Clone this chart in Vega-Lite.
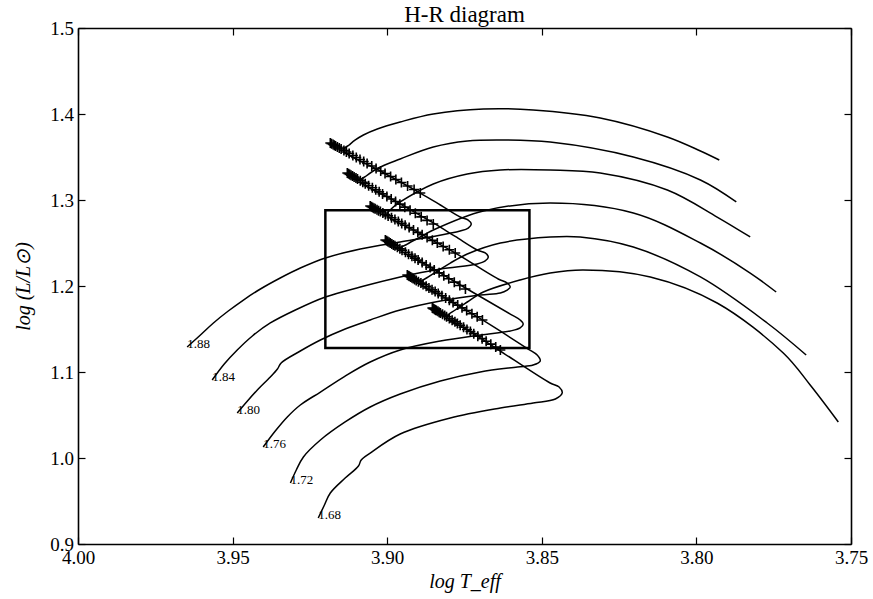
{
"$schema": "https://vega.github.io/schema/vega-lite/v6.json",
"width": 773, "height": 516,
"autosize": {"type": "none"},
"padding": {"left": 78, "top": 28, "right": 22, "bottom": 55},
"background": "white",
"title": {"text": "H-R diagram", "font": "Liberation Serif", "fontSize": 23, "fontWeight": "normal", "color": "black", "anchor": "middle", "offset": -8},
"datasets": {
"tracks": [
{"m":"1.88","i":1,"T":3.9647,"L":1.1291},{"m":"1.88","i":2,"T":3.9604,"L":1.1430},{"m":"1.88","i":3,"T":3.9562,"L":1.1570},{"m":"1.88","i":4,"T":3.9514,"L":1.1709},{"m":"1.88","i":5,"T":3.9465,"L":1.1837},{"m":"1.88","i":6,"T":3.9410,"L":1.1965},{"m":"1.88","i":7,"T":3.9346,"L":1.2093},{"m":"1.88","i":8,"T":3.9281,"L":1.2209},{"m":"1.88","i":9,"T":3.9200,"L":1.2326},{"m":"1.88","i":10,"T":3.9087,"L":1.2430},{"m":"1.88","i":11,"T":3.8958,"L":1.2512},{"m":"1.88","i":12,"T":3.8861,"L":1.2570},{"m":"1.88","i":13,"T":3.8764,"L":1.2640},{"m":"1.88","i":14,"T":3.8738,"L":1.2674},{"m":"1.88","i":15,"T":3.8728,"L":1.2721},{"m":"1.88","i":16,"T":3.8738,"L":1.2767},{"m":"1.88","i":17,"T":3.8764,"L":1.2802},{"m":"1.88","i":18,"T":3.8828,"L":1.2942},{"m":"1.88","i":19,"T":3.8893,"L":1.3081},{"m":"1.88","i":20,"T":3.9022,"L":1.3337},{"m":"1.88","i":21,"T":3.9142,"L":1.3581},{"m":"1.88","i":22,"T":3.9123,"L":1.3640},{"m":"1.88","i":23,"T":3.9103,"L":1.3698},{"m":"1.88","i":24,"T":3.9077,"L":1.3756},{"m":"1.88","i":25,"T":3.9032,"L":1.3826},{"m":"1.88","i":26,"T":3.8958,"L":1.3907},{"m":"1.88","i":27,"T":3.8851,"L":1.4000},{"m":"1.88","i":28,"T":3.8689,"L":1.4058},{"m":"1.88","i":29,"T":3.8528,"L":1.4047},{"m":"1.88","i":30,"T":3.8311,"L":1.3953},{"m":"1.88","i":31,"T":3.8094,"L":1.3733},{"m":"1.88","i":32,"T":3.7987,"L":1.3570},{"m":"1.88","i":33,"T":3.7926,"L":1.3465},
{"m":"1.84","i":1,"T":3.9566,"L":1.0907},{"m":"1.84","i":2,"T":3.9527,"L":1.1093},{"m":"1.84","i":3,"T":3.9485,"L":1.1256},{"m":"1.84","i":4,"T":3.9436,"L":1.1419},{"m":"1.84","i":5,"T":3.9378,"L":1.1570},{"m":"1.84","i":6,"T":3.9297,"L":1.1721},{"m":"1.84","i":7,"T":3.9200,"L":1.1872},{"m":"1.84","i":8,"T":3.9087,"L":1.1988},{"m":"1.84","i":9,"T":3.8958,"L":1.2105},{"m":"1.84","i":10,"T":3.8828,"L":1.2198},{"m":"1.84","i":11,"T":3.8709,"L":1.2256},{"m":"1.84","i":12,"T":3.8683,"L":1.2291},{"m":"1.84","i":13,"T":3.8673,"L":1.2337},{"m":"1.84","i":14,"T":3.8683,"L":1.2384},{"m":"1.84","i":15,"T":3.8709,"L":1.2419},{"m":"1.84","i":16,"T":3.8780,"L":1.2576},{"m":"1.84","i":17,"T":3.8851,"L":1.2733},{"m":"1.84","i":18,"T":3.8974,"L":1.2988},{"m":"1.84","i":19,"T":3.9087,"L":1.3221},{"m":"1.84","i":20,"T":3.9068,"L":1.3279},{"m":"1.84","i":21,"T":3.9029,"L":1.3372},{"m":"1.84","i":22,"T":3.8958,"L":1.3477},{"m":"1.84","i":23,"T":3.8851,"L":1.3616},{"m":"1.84","i":24,"T":3.8741,"L":1.3686},{"m":"1.84","i":25,"T":3.8634,"L":1.3698},{"m":"1.84","i":26,"T":3.8473,"L":1.3674},{"m":"1.84","i":27,"T":3.8204,"L":1.3500},{"m":"1.84","i":28,"T":3.7987,"L":1.3233},{"m":"1.84","i":29,"T":3.7871,"L":1.2977},
{"m":"1.80","i":1,"T":3.9485,"L":1.0523},{"m":"1.80","i":2,"T":3.9452,"L":1.0663},{"m":"1.80","i":3,"T":3.9420,"L":1.0791},{"m":"1.80","i":4,"T":3.9378,"L":1.0942},{"m":"1.80","i":5,"T":3.9355,"L":1.1035},{"m":"1.80","i":6,"T":3.9343,"L":1.1105},{"m":"1.80","i":7,"T":3.9281,"L":1.1244},{"m":"1.80","i":8,"T":3.9216,"L":1.1372},{"m":"1.80","i":9,"T":3.9136,"L":1.1500},{"m":"1.80","i":10,"T":3.9055,"L":1.1605},{"m":"1.80","i":11,"T":3.8958,"L":1.1721},{"m":"1.80","i":12,"T":3.8828,"L":1.1826},{"m":"1.80","i":13,"T":3.8699,"L":1.1895},{"m":"1.80","i":14,"T":3.8634,"L":1.1919},{"m":"1.80","i":15,"T":3.8612,"L":1.1953},{"m":"1.80","i":16,"T":3.8602,"L":1.1988},{"m":"1.80","i":17,"T":3.8612,"L":1.2035},{"m":"1.80","i":18,"T":3.8641,"L":1.2081},{"m":"1.80","i":19,"T":3.8780,"L":1.2384},{"m":"1.80","i":20,"T":3.8909,"L":1.2640},{"m":"1.80","i":21,"T":3.9000,"L":1.2826},{"m":"1.80","i":22,"T":3.8980,"L":1.2919},{"m":"1.80","i":23,"T":3.8958,"L":1.2977},{"m":"1.80","i":24,"T":3.8851,"L":1.3186},{"m":"1.80","i":25,"T":3.8741,"L":1.3302},{"m":"1.80","i":26,"T":3.8634,"L":1.3349},{"m":"1.80","i":27,"T":3.8473,"L":1.3349},{"m":"1.80","i":28,"T":3.8311,"L":1.3314},{"m":"1.80","i":29,"T":3.8094,"L":1.3116},{"m":"1.80","i":30,"T":3.7933,"L":1.2802},{"m":"1.80","i":31,"T":3.7826,"L":1.2570},
{"m":"1.76","i":1,"T":3.9401,"L":1.0128},{"m":"1.76","i":2,"T":3.9362,"L":1.0314},{"m":"1.76","i":3,"T":3.9323,"L":1.0477},{"m":"1.76","i":4,"T":3.9281,"L":1.0616},{"m":"1.76","i":5,"T":3.9216,"L":1.0767},{"m":"1.76","i":6,"T":3.9136,"L":1.0953},{"m":"1.76","i":7,"T":3.9055,"L":1.1116},{"m":"1.76","i":8,"T":3.8958,"L":1.1256},{"m":"1.76","i":9,"T":3.8828,"L":1.1360},{"m":"1.76","i":10,"T":3.8699,"L":1.1430},{"m":"1.76","i":11,"T":3.8602,"L":1.1477},{"m":"1.76","i":12,"T":3.8570,"L":1.1512},{"m":"1.76","i":13,"T":3.8560,"L":1.1558},{"m":"1.76","i":14,"T":3.8570,"L":1.1605},{"m":"1.76","i":15,"T":3.8602,"L":1.1674},{"m":"1.76","i":16,"T":3.8747,"L":1.1977},{"m":"1.76","i":17,"T":3.8861,"L":1.2221},{"m":"1.76","i":18,"T":3.8958,"L":1.2430},{"m":"1.76","i":19,"T":3.8935,"L":1.2488},{"m":"1.76","i":20,"T":3.8893,"L":1.2570},{"m":"1.76","i":21,"T":3.8851,"L":1.2651},{"m":"1.76","i":22,"T":3.8689,"L":1.2872},{"m":"1.76","i":23,"T":3.8473,"L":1.2965},{"m":"1.76","i":24,"T":3.8204,"L":1.2849},{"m":"1.76","i":25,"T":3.7987,"L":1.2500},{"m":"1.76","i":26,"T":3.7826,"L":1.2151},{"m":"1.76","i":27,"T":3.7742,"L":1.1930},
{"m":"1.72","i":1,"T":3.9313,"L":0.9709},{"m":"1.72","i":2,"T":3.9294,"L":0.9860},{"m":"1.72","i":3,"T":3.9271,"L":1.0012},{"m":"1.72","i":4,"T":3.9216,"L":1.0209},{"m":"1.72","i":5,"T":3.9136,"L":1.0419},{"m":"1.72","i":6,"T":3.9055,"L":1.0593},{"m":"1.72","i":7,"T":3.8958,"L":1.0744},{"m":"1.72","i":8,"T":3.8828,"L":1.0895},{"m":"1.72","i":9,"T":3.8699,"L":1.1000},{"m":"1.72","i":10,"T":3.8579,"L":1.1058},{"m":"1.72","i":11,"T":3.8528,"L":1.1081},{"m":"1.72","i":12,"T":3.8505,"L":1.1128},{"m":"1.72","i":13,"T":3.8515,"L":1.1198},{"m":"1.72","i":14,"T":3.8544,"L":1.1267},{"m":"1.72","i":15,"T":3.8692,"L":1.1605},{"m":"1.72","i":16,"T":3.8806,"L":1.1849},{"m":"1.72","i":17,"T":3.8893,"L":1.2035},{"m":"1.72","i":18,"T":3.8867,"L":1.2105},{"m":"1.72","i":19,"T":3.8796,"L":1.2267},{"m":"1.72","i":20,"T":3.8741,"L":1.2372},{"m":"1.72","i":21,"T":3.8634,"L":1.2500},{"m":"1.72","i":22,"T":3.8473,"L":1.2570},{"m":"1.72","i":23,"T":3.8376,"L":1.2570},{"m":"1.72","i":24,"T":3.8204,"L":1.2453},{"m":"1.72","i":25,"T":3.7987,"L":1.2105},{"m":"1.72","i":26,"T":3.7771,"L":1.1570},{"m":"1.72","i":27,"T":3.7645,"L":1.1198},
{"m":"1.68","i":1,"T":3.9223,"L":0.9302},{"m":"1.68","i":2,"T":3.9203,"L":0.9453},{"m":"1.68","i":3,"T":3.9184,"L":0.9593},{"m":"1.68","i":4,"T":3.9136,"L":0.9767},{"m":"1.68","i":5,"T":3.9093,"L":0.9907},{"m":"1.68","i":6,"T":3.9084,"L":0.9977},{"m":"1.68","i":7,"T":3.9055,"L":1.0058},{"m":"1.68","i":8,"T":3.8958,"L":1.0279},{"m":"1.68","i":9,"T":3.8796,"L":1.0465},{"m":"1.68","i":10,"T":3.8634,"L":1.0581},{"m":"1.68","i":11,"T":3.8528,"L":1.0640},{"m":"1.68","i":12,"T":3.8456,"L":1.0686},{"m":"1.68","i":13,"T":3.8434,"L":1.0756},{"m":"1.68","i":14,"T":3.8444,"L":1.0826},{"m":"1.68","i":15,"T":3.8473,"L":1.0872},{"m":"1.68","i":16,"T":3.8634,"L":1.1244},{"m":"1.68","i":17,"T":3.8731,"L":1.1472},{"m":"1.68","i":18,"T":3.8806,"L":1.1640},{"m":"1.68","i":19,"T":3.8780,"L":1.1721},{"m":"1.68","i":20,"T":3.8741,"L":1.1814},{"m":"1.68","i":21,"T":3.8689,"L":1.1930},{"m":"1.68","i":22,"T":3.8570,"L":1.2070},{"m":"1.68","i":23,"T":3.8473,"L":1.2151},{"m":"1.68","i":24,"T":3.8366,"L":1.2186},{"m":"1.68","i":25,"T":3.8149,"L":1.2105},{"m":"1.68","i":26,"T":3.7933,"L":1.1802},{"m":"1.68","i":27,"T":3.7719,"L":1.1221},{"m":"1.68","i":28,"T":3.7632,"L":1.0849},{"m":"1.68","i":29,"T":3.7541,"L":1.0419}
],
"crosses": [
{"g":1,"T":3.9184,"L":1.3663},{"g":1,"T":3.9180,"L":1.3654},{"g":1,"T":3.9175,"L":1.3646},{"g":1,"T":3.9171,"L":1.3637},{"g":1,"T":3.9167,"L":1.3628},{"g":1,"T":3.9161,"L":1.3616},{"g":1,"T":3.9155,"L":1.3605},{"g":1,"T":3.9149,"L":1.3593},{"g":1,"T":3.9140,"L":1.3576},{"g":1,"T":3.9132,"L":1.3558},{"g":1,"T":3.9123,"L":1.3541},{"g":1,"T":3.9111,"L":1.3518},{"g":1,"T":3.9100,"L":1.3494},{"g":1,"T":3.9088,"L":1.3471},{"g":1,"T":3.9076,"L":1.3448},{"g":1,"T":3.9065,"L":1.3424},{"g":1,"T":3.9050,"L":1.3395},{"g":1,"T":3.9036,"L":1.3366},{"g":1,"T":3.9021,"L":1.3337},{"g":1,"T":3.9007,"L":1.3308},{"g":1,"T":3.8989,"L":1.3273},{"g":1,"T":3.8972,"L":1.3238},{"g":1,"T":3.8954,"L":1.3203},{"g":1,"T":3.8934,"L":1.3163},{"g":1,"T":3.8913,"L":1.3122},{"g":1,"T":3.8893,"L":1.3081},
{"g":2,"T":3.9129,"L":1.3314},{"g":2,"T":3.9125,"L":1.3305},{"g":2,"T":3.9121,"L":1.3296},{"g":2,"T":3.9117,"L":1.3287},{"g":2,"T":3.9112,"L":1.3278},{"g":2,"T":3.9107,"L":1.3267},{"g":2,"T":3.9101,"L":1.3255},{"g":2,"T":3.9096,"L":1.3243},{"g":2,"T":3.9087,"L":1.3225},{"g":2,"T":3.9079,"L":1.3207},{"g":2,"T":3.9071,"L":1.3190},{"g":2,"T":3.9060,"L":1.3166},{"g":2,"T":3.9048,"L":1.3142},{"g":2,"T":3.9037,"L":1.3118},{"g":2,"T":3.9026,"L":1.3095},{"g":2,"T":3.9015,"L":1.3071},{"g":2,"T":3.9001,"L":1.3041},{"g":2,"T":3.8987,"L":1.3012},{"g":2,"T":3.8973,"L":1.2982},{"g":2,"T":3.8959,"L":1.2952},{"g":2,"T":3.8943,"L":1.2917},{"g":2,"T":3.8926,"L":1.2881},{"g":2,"T":3.8909,"L":1.2846},{"g":2,"T":3.8890,"L":1.2804},{"g":2,"T":3.8871,"L":1.2763},{"g":2,"T":3.8851,"L":1.2721},
{"g":3,"T":3.9055,"L":1.2930},{"g":3,"T":3.9051,"L":1.2922},{"g":3,"T":3.9047,"L":1.2914},{"g":3,"T":3.9043,"L":1.2905},{"g":3,"T":3.9039,"L":1.2897},{"g":3,"T":3.9033,"L":1.2886},{"g":3,"T":3.9028,"L":1.2875},{"g":3,"T":3.9022,"L":1.2865},{"g":3,"T":3.9014,"L":1.2848},{"g":3,"T":3.9006,"L":1.2832},{"g":3,"T":3.8997,"L":1.2815},{"g":3,"T":3.8986,"L":1.2794},{"g":3,"T":3.8975,"L":1.2772},{"g":3,"T":3.8964,"L":1.2750},{"g":3,"T":3.8953,"L":1.2728},{"g":3,"T":3.8942,"L":1.2706},{"g":3,"T":3.8929,"L":1.2679},{"g":3,"T":3.8915,"L":1.2652},{"g":3,"T":3.8901,"L":1.2624},{"g":3,"T":3.8887,"L":1.2597},{"g":3,"T":3.8871,"L":1.2564},{"g":3,"T":3.8854,"L":1.2531},{"g":3,"T":3.8838,"L":1.2499},{"g":3,"T":3.8819,"L":1.2460},{"g":3,"T":3.8799,"L":1.2422},{"g":3,"T":3.8780,"L":1.2384},
{"g":4,"T":3.9006,"L":1.2535},{"g":4,"T":3.9002,"L":1.2526},{"g":4,"T":3.8998,"L":1.2518},{"g":4,"T":3.8994,"L":1.2509},{"g":4,"T":3.8990,"L":1.2501},{"g":4,"T":3.8985,"L":1.2489},{"g":4,"T":3.8980,"L":1.2478},{"g":4,"T":3.8975,"L":1.2467},{"g":4,"T":3.8967,"L":1.2450},{"g":4,"T":3.8959,"L":1.2432},{"g":4,"T":3.8952,"L":1.2415},{"g":4,"T":3.8941,"L":1.2393},{"g":4,"T":3.8931,"L":1.2370},{"g":4,"T":3.8920,"L":1.2347},{"g":4,"T":3.8910,"L":1.2324},{"g":4,"T":3.8900,"L":1.2301},{"g":4,"T":3.8887,"L":1.2273},{"g":4,"T":3.8874,"L":1.2244},{"g":4,"T":3.8861,"L":1.2216},{"g":4,"T":3.8848,"L":1.2187},{"g":4,"T":3.8832,"L":1.2153},{"g":4,"T":3.8817,"L":1.2119},{"g":4,"T":3.8801,"L":1.2085},{"g":4,"T":3.8783,"L":1.2045},{"g":4,"T":3.8765,"L":1.2005},{"g":4,"T":3.8747,"L":1.1965},
{"g":5,"T":3.8935,"L":1.2128},{"g":5,"T":3.8931,"L":1.2120},{"g":5,"T":3.8928,"L":1.2112},{"g":5,"T":3.8924,"L":1.2105},{"g":5,"T":3.8920,"L":1.2097},{"g":5,"T":3.8916,"L":1.2086},{"g":5,"T":3.8911,"L":1.2076},{"g":5,"T":3.8906,"L":1.2065},{"g":5,"T":3.8899,"L":1.2050},{"g":5,"T":3.8891,"L":1.2034},{"g":5,"T":3.8884,"L":1.2018},{"g":5,"T":3.8874,"L":1.1997},{"g":5,"T":3.8865,"L":1.1976},{"g":5,"T":3.8855,"L":1.1955},{"g":5,"T":3.8845,"L":1.1935},{"g":5,"T":3.8835,"L":1.1914},{"g":5,"T":3.8823,"L":1.1887},{"g":5,"T":3.8811,"L":1.1861},{"g":5,"T":3.8799,"L":1.1835},{"g":5,"T":3.8787,"L":1.1809},{"g":5,"T":3.8772,"L":1.1778},{"g":5,"T":3.8758,"L":1.1746},{"g":5,"T":3.8743,"L":1.1715},{"g":5,"T":3.8726,"L":1.1678},{"g":5,"T":3.8709,"L":1.1642},{"g":5,"T":3.8692,"L":1.1605},
{"g":6,"T":3.8854,"L":1.1744},{"g":6,"T":3.8851,"L":1.1737},{"g":6,"T":3.8847,"L":1.1729},{"g":6,"T":3.8844,"L":1.1722},{"g":6,"T":3.8841,"L":1.1715},{"g":6,"T":3.8836,"L":1.1705},{"g":6,"T":3.8832,"L":1.1695},{"g":6,"T":3.8828,"L":1.1685},{"g":6,"T":3.8821,"L":1.1671},{"g":6,"T":3.8814,"L":1.1656},{"g":6,"T":3.8808,"L":1.1642},{"g":6,"T":3.8799,"L":1.1622},{"g":6,"T":3.8790,"L":1.1603},{"g":6,"T":3.8781,"L":1.1583},{"g":6,"T":3.8773,"L":1.1563},{"g":6,"T":3.8764,"L":1.1544},{"g":6,"T":3.8753,"L":1.1520},{"g":6,"T":3.8742,"L":1.1495},{"g":6,"T":3.8731,"L":1.1471},{"g":6,"T":3.8720,"L":1.1446},{"g":6,"T":3.8707,"L":1.1417},{"g":6,"T":3.8693,"L":1.1388},{"g":6,"T":3.8680,"L":1.1358},{"g":6,"T":3.8665,"L":1.1324},{"g":6,"T":3.8649,"L":1.1290},{"g":6,"T":3.8634,"L":1.1256}
],
"box": [{"x1": 3.920, "x2": 3.854, "y1": 1.128, "y2": 1.288}]
},
"layer": [
{
"data": {"name": "tracks"},
"mark": {"type": "line", "color": "black", "strokeWidth": 1.5, "interpolate": "catmull-rom"},
"encoding": {
"x": {"field": "T", "type": "quantitative", "scale": {"domain": [3.75, 4.0], "reverse": true, "nice": false, "zero": false},
"axis": {"orient": "bottom", "values": [3.75, 3.8, 3.85, 3.9, 3.95, 4.0], "format": ".2f", "title": "log T_eff"}},
"y": {"field": "L", "type": "quantitative", "scale": {"domain": [0.9, 1.5], "nice": false, "zero": false},
"axis": {"orient": "left", "values": [0.9, 1.0, 1.1, 1.2, 1.3, 1.4, 1.5], "format": ".1f", "title": "log (L/L⊙)", "titlePadding": 16}},
"detail": {"field": "m"},
"order": {"field": "i", "type": "quantitative"}
}
},
{
"data": {"name": "crosses"},
"mark": {"type": "point", "shape": "M-1,0L1,0M0,-1L0,1", "filled": false, "color": "black", "strokeWidth": 1.6, "size": 100, "opacity": 1},
"encoding": {
"x": {"field": "T", "type": "quantitative", "axis": null},
"y": {"field": "L", "type": "quantitative", "axis": null}
}
},
{
"data": {"name": "box"},
"mark": {"type": "rect", "fill": null, "fillOpacity": 0, "stroke": "black", "strokeWidth": 2.5},
"encoding": {
"x": {"field": "x1", "type": "quantitative", "axis": {"orient": "top", "values": [3.75, 3.8, 3.85, 3.9, 3.95, 4.0], "labels": false, "title": null}},
"x2": {"field": "x2"},
"y": {"field": "y1", "type": "quantitative", "axis": {"orient": "right", "values": [0.9, 1.0, 1.1, 1.2, 1.3, 1.4, 1.5], "labels": false, "title": null}},
"y2": {"field": "y2"}
}
},
{
"data": {"name": "tracks"},
"transform": [{"filter": "datum.i == 1"}],
"mark": {"type": "text", "align": "left", "baseline": "alphabetic", "dy": 1, "font": "Liberation Serif", "fontSize": 13, "color": "black"},
"encoding": {
"x": {"field": "T", "type": "quantitative", "axis": null},
"y": {"field": "L", "type": "quantitative", "axis": null},
"text": {"field": "m"}
}
}
],
"resolve": {"axis": {"x": "independent", "y": "independent"}},
"config": {
"view": {"stroke": null},
"axis": {"domainColor": "black", "domainWidth": 1.6, "tickColor": "black", "tickWidth": 1.2, "tickSize": -7, "labelPadding": 11.5,
"labelFont": "Liberation Serif", "labelFontSize": 19, "labelColor": "black", "labelFlush": false, "labelOverlap": false,
"titleFont": "Liberation Serif", "titleFontStyle": "italic", "titleFontWeight": "normal", "titleFontSize": 20, "titleColor": "black", "grid": false}
}
}
